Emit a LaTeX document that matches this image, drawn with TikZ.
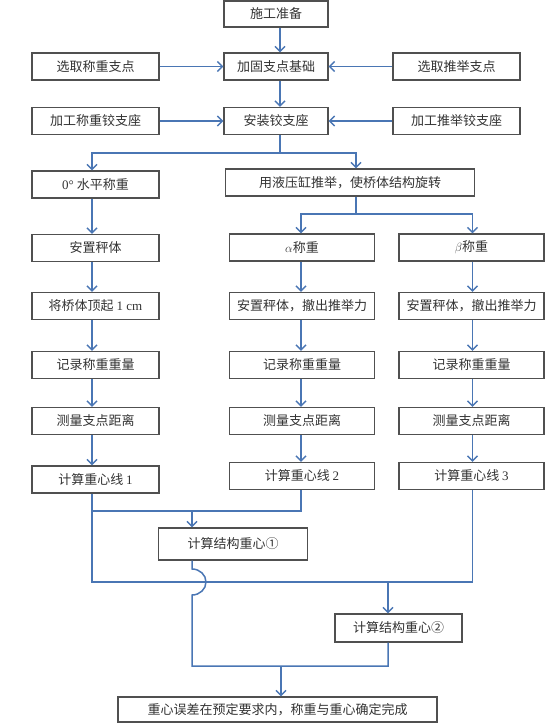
\documentclass[tikz,border=0pt]{standalone}
\usepackage{fontspec}
\setmainfont{Liberation Serif}
\newfontfamily\cjk{Noto Sans CJK SC}
\usetikzlibrary{arrows.meta}
\definecolor{lineblue}{HTML}{4A76B4}
\definecolor{boxgray}{HTML}{505050}
\definecolor{txtgray}{HTML}{333333}
\begin{document}
\begin{tikzpicture}[x=1pt,y=-1pt,
  box/.style={draw=boxgray, line width=1.1pt, fill=white, minimum height=27pt, inner sep=0pt, text=txtgray, font=\fontsize{13}{15}\selectfont\cjk},
  wbox/.style={box, minimum width=127pt},
  cbox/.style={box, minimum width=145pt},
  mbox/.style={box, minimum width=104pt},
  link/.style={draw=lineblue, line width=1.5pt},
  arr/.style={link, -{Straight Barb[length=5pt,width=10pt]}}]
\useasboundingbox (0,0) rectangle (545,723);
% nodes
\node[mbox, minimum height=26pt] (n1) at (276,14) {施工准备};
\node[mbox] (n2) at (276,66.5) {加固支点基础};
\node[wbox] (l1) at (95.5,66.5) {选取称重支点};
\node[wbox] (r1) at (456.5,66.5) {选取推举支点};
\node[mbox] (n3) at (276,121) {安装铰支座};
\node[wbox] (l2) at (95.5,121) {加工称重铰支座};
\node[wbox] (r2) at (456.5,121) {加工推举铰支座};
\node[wbox] (a1) at (95.5,184.5) {{\rmfamily 0°} 水平称重};
\node[box, minimum width=249pt] (b0) at (350,182.5) {用液压缸推举，使桥体结构旋转};
\node[wbox] (a2) at (95.5,248) {安置秤体};
\node[cbox] (b1) at (302,247.5) {$\alpha$称重};
\node[cbox] (c1) at (471.5,247.5) {$\beta$称重};
\node[wbox] (a3) at (95.5,306) {将桥体顶起 {\rmfamily 1 cm}};
\node[cbox] (b2) at (302,306) {安置秤体，撤出推举力};
\node[cbox] (c2) at (471.5,306) {安置秤体，撤出推举力};
\node[wbox] (a4) at (95.5,365) {记录称重重量};
\node[cbox] (b3) at (302,365) {记录称重重量};
\node[cbox] (c3) at (471.5,365) {记录称重重量};
\node[wbox] (a5) at (95.5,421) {测量支点距离};
\node[cbox] (b4) at (302,421) {测量支点距离};
\node[cbox] (c4) at (471.5,421) {测量支点距离};
\node[wbox] (a6) at (95.5,479.5) {计算重心线 {\rmfamily 1}};
\node[cbox] (b5) at (302,476) {计算重心线 {\rmfamily 2}};
\node[cbox] (c5) at (471.5,476) {计算重心线 {\rmfamily 3}};
\node[box, minimum width=149pt, minimum height=32pt] (d1) at (233,544) {计算结构重心①};
\node[box, minimum width=127pt, minimum height=28pt] (d2) at (398.5,628) {计算结构重心②};
\node[box, minimum width=319pt, minimum height=25pt] (fin) at (277.5,709.5) {重心误差在预定要求内，称重与重心确定完成};
% helper coordinates
\coordinate (mx) at (280,0);
\coordinate (ax) at (92,0);
\coordinate (bx) at (301,0);
\coordinate (cx) at (472.5,0);
\coordinate (s1) at (280,153);
\coordinate (b0x) at (356,0);
\coordinate (s2) at (356,214);
\coordinate (k1) at (92,511);
\coordinate (k2) at (301,511);
\coordinate (k3) at (192,511);
\coordinate (h1) at (92,582);
\coordinate (h2) at (472.5,582);
\coordinate (h3) at (388,582);
\coordinate (hp) at (192,569);
\coordinate (m1) at (192,666);
\coordinate (m2) at (388,666);
\coordinate (m3) at (281,666);
% connectors
\draw[arr] (n1.south -| mx) -- (n2.north -| mx);
\draw[arr] (l1.east) -- (n2.west);
\draw[arr] (r1.west) -- (n2.east);
\draw[arr] (n2.south -| mx) -- (n3.north -| mx);
\draw[arr] (l2.east) -- (n3.west);
\draw[arr] (r2.west) -- (n3.east);
\draw[link] (n3.south -| mx) -- (s1);
\draw[arr] (s1) -| (a1.north -| ax);
\draw[arr] (s1) -| (b0.north -| b0x);
\draw[link] (b0.south -| b0x) -- (s2);
\draw[arr] (s2) -| (b1.north -| bx);
\draw[arr] (s2) -| (c1.north -| cx);
\foreach \u/\v in {a1/a2,a2/a3,a3/a4,a4/a5,a5/a6}
  \draw[arr] (\u.south -| ax) -- (\v.north -| ax);
\foreach \u/\v in {b1/b2,b2/b3,b3/b4,b4/b5}
  \draw[arr] (\u.south -| bx) -- (\v.north -| bx);
\foreach \u/\v in {c1/c2,c2/c3,c3/c4,c4/c5}
  \draw[arr] (\u.south -| cx) -- (\v.north -| cx);
\draw[link] (a6.south -| ax) -- (h1) -- (h2) -- (c5.south -| cx);
\draw[link] (b5.south -| bx) -- (k2) -- (k1);
\draw[arr] (k3) -- (d1.north -| k3);
\draw[arr] (h3) -- (d2.north -| h3);
\draw[link] (d1.south -| hp) -- (hp) arc[start angle=-90, end angle=90, x radius=14, y radius=13] -- (m1) -- (m2) -- (d2.south -| m2);
\draw[arr] (m3) -- (fin.north -| m3);
\end{tikzpicture}
\end{document}
